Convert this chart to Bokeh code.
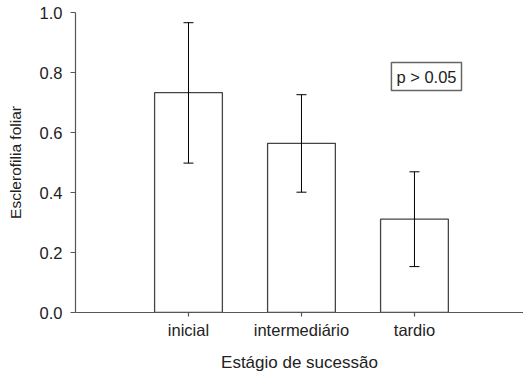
from bokeh.plotting import figure
from bokeh.models import Range1d, FixedTicker, Whisker, ColumnDataSource, Label, TeeHead
from bokeh.embed import file_html
from bokeh.resources import INLINE

categories = ["inicial", "intermediário", "tardio"]
x_pos = [1, 2, 3]
means = [0.733, 0.564, 0.311]
upper = [0.966, 0.726, 0.469]
lower = [0.498, 0.401, 0.153]
y_ticks = [0.0, 0.2, 0.4, 0.6, 0.8, 1.0]
y_tick_labels = ["0.0", "0.2", "0.4", "0.6", "0.8", "1.0"]
note_text = "p > 0.05"
note_x = 2.796
note_y = 0.833

FONT = "Liberation Sans"
TXT = "#222222"
AX = "#555555"

src = ColumnDataSource(dict(x=x_pos, top=means, upper=upper, lower=lower))

p = figure(width=523, height=376, x_range=Range1d(0, 3.965), y_range=Range1d(0, 1.0),
           output_backend="svg", toolbar_location=None,
           min_border_left=75, min_border_right=0, min_border_top=12, min_border_bottom=64)

p.vbar(x="x", top="top", bottom=0, width=0.6, source=src,
       fill_color="white", line_color="#444444", line_width=1.3)

w = Whisker(base="x", upper="upper", lower="lower", source=src, level="overlay",
            line_color="black", line_width=1,
            upper_head=TeeHead(size=10, line_color="black", line_width=1),
            lower_head=TeeHead(size=10, line_color="black", line_width=1))
p.add_layout(w)

p.add_layout(Label(x=note_x, y=note_y, text=note_text, text_align="left", text_baseline="top",
                   text_font=FONT, text_font_size="16.5px", text_color=TXT,
                   border_line_color="#666666", border_line_width=1.5,
                   background_fill_color="white", padding=5))

p.xgrid.visible = False
p.ygrid.visible = False
p.outline_line_color = None

p.xaxis.ticker = FixedTicker(ticks=x_pos)
p.xaxis.major_label_overrides = {x: c for x, c in zip(x_pos, categories)}
p.yaxis.ticker = FixedTicker(ticks=y_ticks)
p.yaxis.major_label_overrides = {t: l for t, l in zip(y_ticks, y_tick_labels)}

for ax in (p.xaxis, p.yaxis):
    ax.axis_line_color = AX
    ax.axis_line_width = 1.2
    ax.major_tick_line_color = AX
    ax.major_tick_line_width = 1.2
    ax.major_tick_in = 0
    ax.minor_tick_line_color = None
    ax.major_label_text_font = FONT
    ax.major_label_text_font_size = "16.5px"
    ax.major_label_text_color = TXT
    ax.axis_label_text_font = FONT
    ax.axis_label_text_font_style = "normal"
    ax.axis_label_text_color = TXT

p.xaxis.major_tick_out = 4
p.xaxis.major_label_standoff = 4
p.xaxis.axis_label = "Estágio de sucessão"
p.xaxis.axis_label_text_font_size = "17px"
p.xaxis.axis_label_standoff = 11

p.yaxis.major_tick_out = 5
p.yaxis.major_label_standoff = 8
p.yaxis.axis_label = "Esclerofilia foliar"
p.yaxis.axis_label_text_font_size = "15.5px"
p.yaxis.axis_label_standoff = 13

open("out.html", "w").write(file_html(p, INLINE))
